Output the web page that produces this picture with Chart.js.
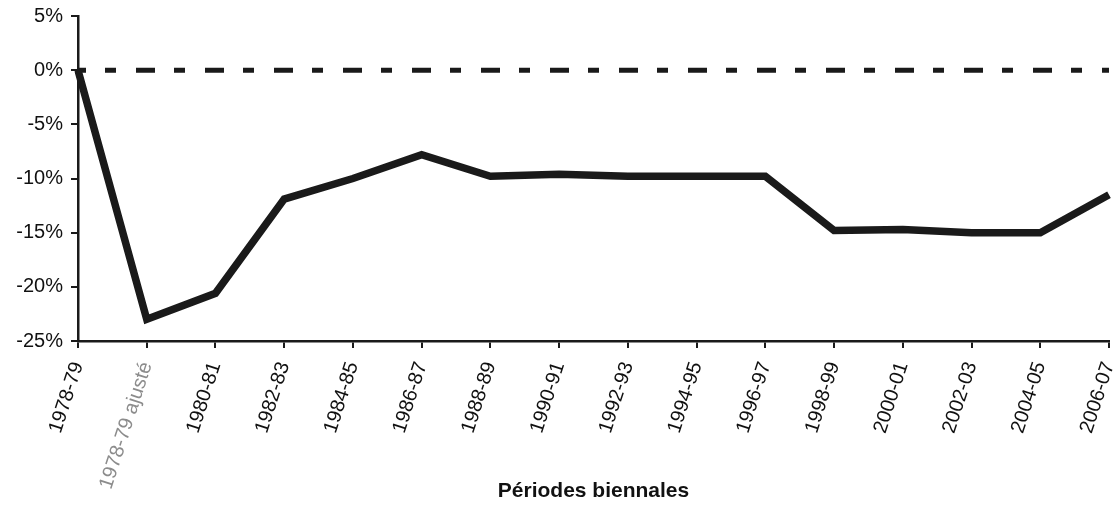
<!DOCTYPE html>
<html>
<head>
<meta charset="utf-8">
<script src="https://cdn.jsdelivr.net/npm/chart.js@4/dist/chart.umd.min.js"></script>
<style>
  html, body { margin: 0; padding: 0; background: #fff; }
  #wrap { width: 1115px; height: 506px; }
</style>
</head>
<body>
<div id="wrap"><canvas id="chartCanvas"></canvas></div>
<script>
const periods = ['1978-79', '1978-79 ajusté', '1980-81', '1982-83', '1984-85', '1986-87',
  '1988-89', '1990-91', '1992-93', '1994-95', '1996-97', '1998-99', '2000-01',
  '2002-03', '2004-05', '2006-07'];
const variation = [0, -23, -20.6, -11.9, -10, -7.8, -9.8, -9.6, -9.8, -9.8, -9.8,
  -14.8, -14.7, -15, -15, -11.5];
const baseline = periods.map(() => 0);
const yTicks = [5, 0, -5, -10, -15, -20, -25];

const ink = '#1a1a1a';
const family = '"Liberation Sans", Arial, sans-serif';

const ctx = document.getElementById('chartCanvas').getContext('2d');
const myChart = new Chart(ctx, {
  type: 'line',
  data: {
    labels: periods,
    datasets: [{
      data: variation,
      borderColor: ink,
      borderWidth: 7.5,
      pointRadius: 0,
      tension: 0,
      borderJoinStyle: 'miter',
      order: 1
    }, {
      // dashed zero reference line
      data: baseline,
      borderColor: ink,
      borderWidth: 5,
      borderDash: [19, 19, 11, 20],
      borderDashOffset: 11,
      borderCapStyle: 'butt',
      pointRadius: 0,
      order: 2
    }]
  },
  options: {
    responsive: true,
    maintainAspectRatio: false,
    animation: false,
    layout: { padding: { top: 16, right: 6, left: 0, bottom: 2 } },
    plugins: { legend: { display: false }, tooltip: { enabled: false } },
    scales: {
      x: {
        offset: false,
        afterFit: (scale) => {
          scale.height = 163;
          scale.paddingLeft = 0;
          scale.paddingRight = 0;
        },
        grid: { drawOnChartArea: false, color: ink, lineWidth: 2, tickLength: 7 },
        border: { color: ink, width: 2.5 },
        ticks: {
          color: (c) => c.index === 1 ? '#8c8c8c' : '#111',
          font: { family: family, size: 20 },
          minRotation: 72,
          maxRotation: 72,
          autoSkip: false,
          padding: 11
        },
        title: {
          display: true,
          text: 'Périodes biennales',
          color: '#111',
          font: { family: family, size: 21, weight: 'bold' },
          padding: { top: 0, bottom: 0 }
        }
      },
      y: {
        min: -25,
        max: 5,
        afterFit: (scale) => {
          scale.width = 78;
          scale.paddingTop = 0;
          scale.paddingBottom = 0;
        },
        afterBuildTicks: (scale) => { scale.ticks = yTicks.map(v => ({ value: v })); },
        grid: { drawOnChartArea: false, color: ink, lineWidth: 2, tickLength: 7 },
        border: { color: ink, width: 2.5 },
        ticks: {
          color: '#111',
          font: { family: family, size: 20 },
          padding: 8,
          callback: (v) => v + '%'
        }
      }
    }
  }
});
</script>
</body>
</html>
